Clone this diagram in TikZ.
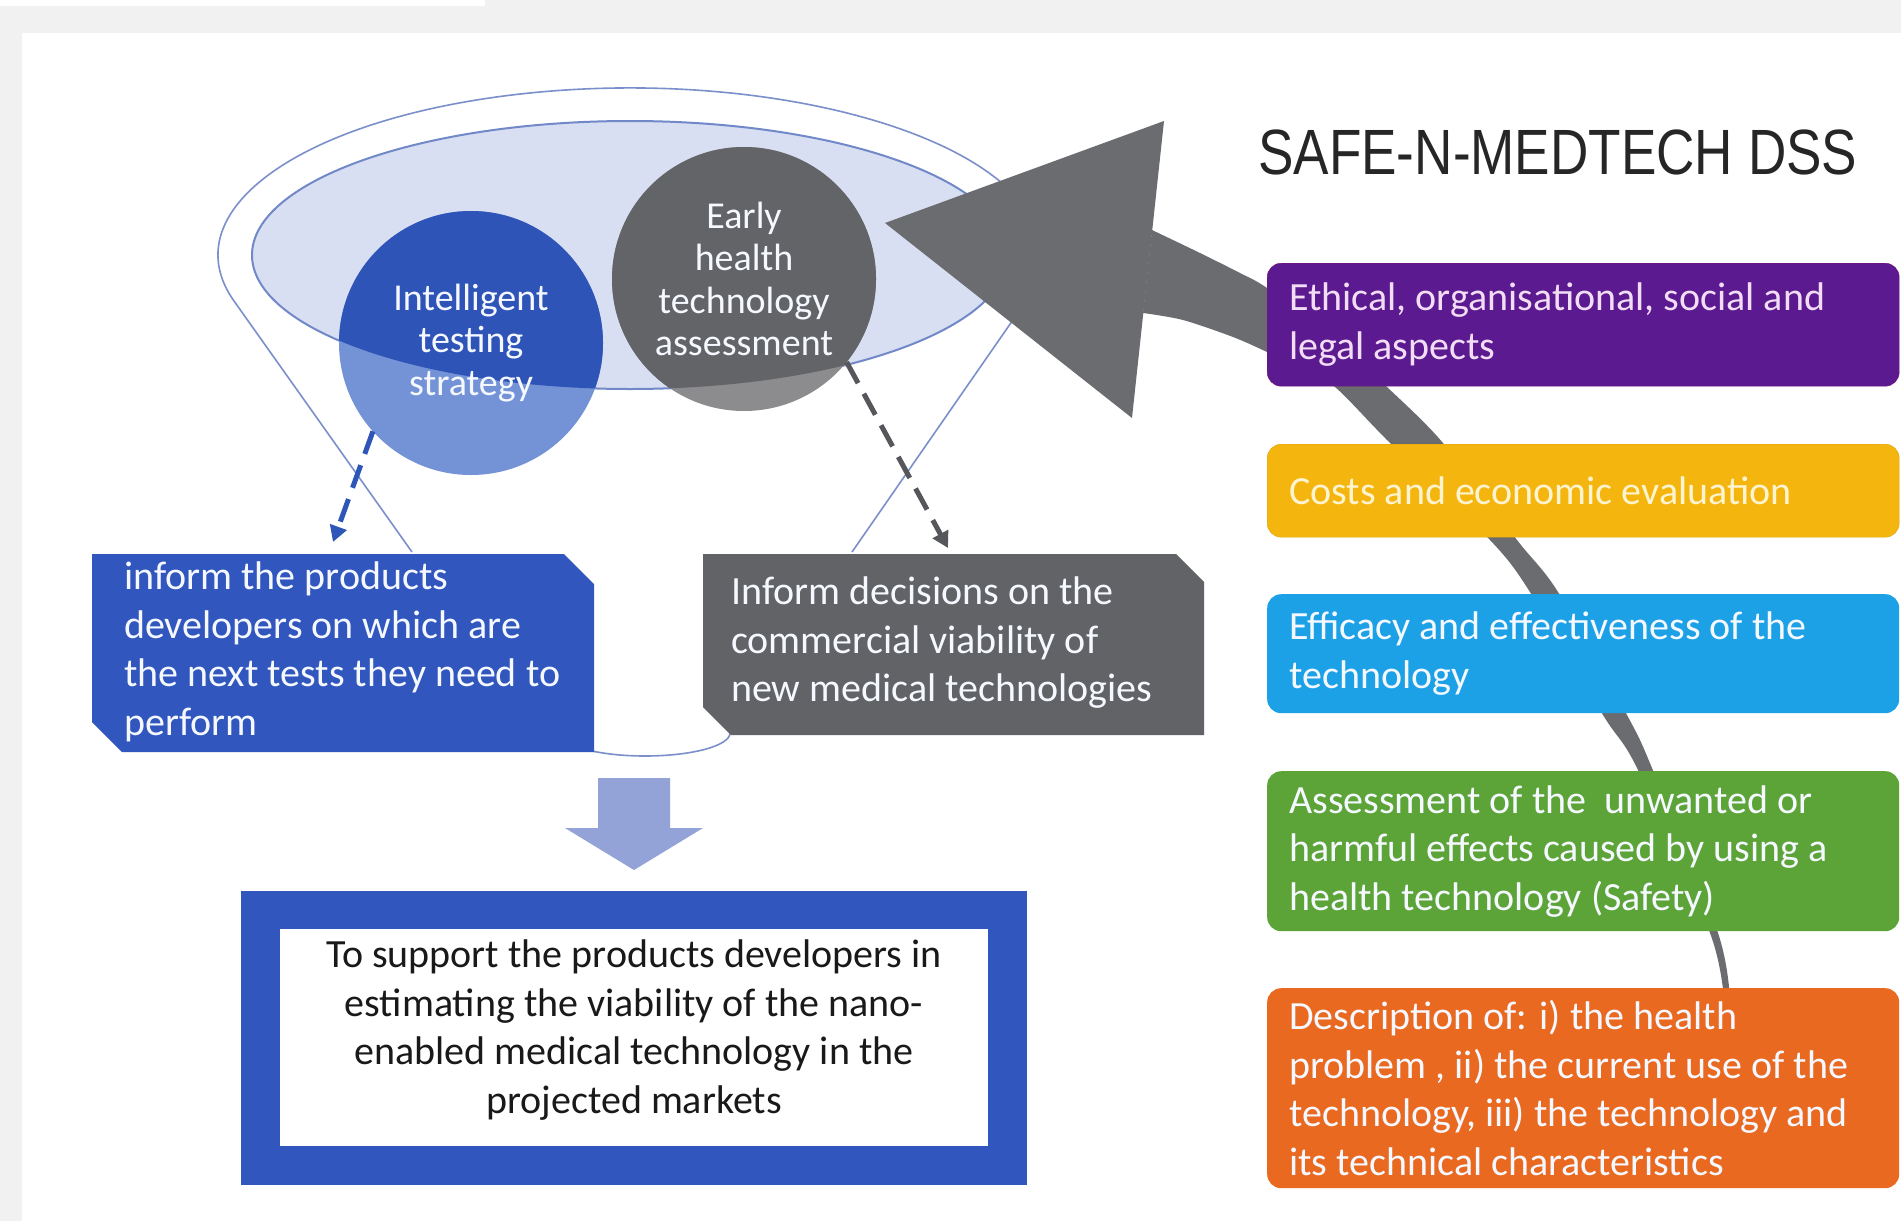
\documentclass[tikz,border=0pt]{standalone}
\usepackage{graphicx}
\usepackage{fontspec}
\setmainfont{Carlito}
\newfontfamily\arialf{Liberation Sans}
\usetikzlibrary{arrows.meta}
\definecolor{bgray}{HTML}{F1F1F1}
\definecolor{funnelline}{HTML}{7B8FCB}
\definecolor{ellfill}{HTML}{D9DFF2}
\definecolor{ellline}{HTML}{7188C9}
\definecolor{bluedark}{HTML}{2F54B8}
\definecolor{bluelight}{HTML}{7393D6}
\definecolor{greydark}{HTML}{636467}
\definecolor{greylight}{HTML}{8C8C8E}
\definecolor{arrowgrey}{HTML}{6B6C6F}
\definecolor{boxblue}{HTML}{3157BE}
\definecolor{boxgrey}{HTML}{626366}
\definecolor{downarr}{HTML}{93A3D8}
\definecolor{purplebox}{HTML}{5B1A8F}
\definecolor{yellowbox}{HTML}{F5B50F}
\definecolor{bluebox}{HTML}{1CA1E6}
\definecolor{greenbox}{HTML}{5CA437}
\definecolor{orangebox}{HTML}{E8691F}
\definecolor{titlecol}{HTML}{262626}
\definecolor{dashblue}{HTML}{2E55B8}
\definecolor{dashgrey}{HTML}{55575A}
\definecolor{purpletext}{HTML}{F2DDF5}
\definecolor{yellowtext}{HTML}{FFF4D0}
\definecolor{lighttext}{HTML}{F5F8FF}
\tikzset{
  rbox/.style={rounded corners=14pt, inner xsep=22pt, inner ysep=0pt, text width=588pt,
    align=flush left, anchor=north west, font=\fontsize{40}{48.5}\selectfont},
  ctext/.style={circle, minimum size=264pt, inner sep=0pt, outer sep=0pt, align=center,
    text=lighttext, font=\fontsize{38}{42.5}\selectfont},
  ltext/.style={align=left, text=lighttext, font=\fontsize{40}{48.5}\selectfont, inner sep=0pt, anchor=west},
  dashcon/.style={line width=5pt, dash pattern=on 24pt off 12pt, -{Triangle[length=16pt,width=17pt]}},
}
\begin{document}
\begin{tikzpicture}[x=1pt,y=-1pt]
% background
\fill[bgray] (0,0) rectangle (1901,1221);
\fill[white] (0,0) rectangle (485,6);
\fill[white] (22,33) rectangle (1901,1221);
\useasboundingbox (0,0) rectangle (1901,1221);

% funnel outline
\draw[funnelline, line width=1.6pt] (412,552) -- (234,301)
  arc[start angle=196, end angle=-15.7, x radius=412pt, y radius=167pt] -- (852,552);
\draw[funnelline, line width=1.6pt] (730,733) arc[start angle=0, end angle=-180, x radius=85pt, y radius=23pt];

% inner ellipse
\fill[ellfill] (630,255) ellipse[x radius=378pt, y radius=134pt];
\draw[ellline, line width=2pt] (630,255) ellipse[x radius=378pt, y radius=134pt];

% circles
\fill[bluelight] (471,343) circle[radius=132pt];
\fill[greylight] (744,279) circle[radius=132pt];
\begin{scope}
  \clip (630,255) ellipse[x radius=378pt, y radius=134pt];
  \fill[bluedark] (471,343) circle[radius=132pt];
  \fill[greydark] (744,279) circle[radius=132pt];
\end{scope}
\node[ctext] (its) at (471,343) {Intelligent\\testing\\strategy};
\node[ctext] (ehta) at (744,279) {Early\\health\\technology\\assessment};

% dashed connectors
\coordinate (tipA) at (333,542);
\coordinate (tipB) at (948,548);
\draw[dashcon, dashblue] (its.222) -- (tipA);
\draw[dashcon, dashgrey] (ehta.321) -- (tipB);

% big curved grey arrow
\fill[arrowgrey] plot[smooth, tension=0.5] coordinates {(1152,230) (1200,253) (1240,273) (1267,288) (1330,335) (1387,387) (1443,443) (1517,540) (1558,592) (1627,715) (1652,768) (1718,933) (1730,1000)}
  -- plot[smooth, tension=0.5] coordinates {(1724,1000) (1710,933) (1637,768) (1603,715) (1530,592) (1490,540) (1390,443) (1335,387) (1300,368) (1267,352) (1233,337) (1183,320) (1143,313)} -- cycle;
\fill[arrowgrey] (885,223) -- (1164,121) -- (1132,418) -- cycle;

% title
\node[anchor=west, inner sep=0pt, text=titlecol] (title) at (1258,152)
  {\scalebox{0.83}[1]{\fontsize{64}{64}\selectfont\arialf SAFE-N-MEDTECH DSS}};

% right boxes
\node[rbox, fill=purplebox, draw=purplebox!80!red, text=purpletext, minimum height=123pt] (eth) at (1267,263)
  {\mbox{Ethical, organisational, social and}\\\mbox{legal aspects}};
\node[rbox, fill=yellowbox, draw=yellowbox!90!black, text=yellowtext, minimum height=93pt] (cost) at (1267,444)
  {\mbox{Costs and economic evaluation}};
\node[rbox, fill=bluebox, text=lighttext, minimum height=119pt] (eff) at (1267,594)
  {\mbox{Efficacy and effectiveness of the}\\\mbox{technology}};
\node[rbox, fill=greenbox, text=lighttext, minimum height=160pt] (safe) at (1267,771)
  {\mbox{Assessment of the \ unwanted or}\\\mbox{harmful effects caused by using a}\\\mbox{health technology (Safety)}};
\node[rbox, fill=orangebox, text=lighttext, minimum height=200pt] (desc) at (1267,988)
  {\mbox{Description of: i) the health}\\\mbox{problem , ii) the current use of the}\\\mbox{technology, iii) the technology and}\\\mbox{its technical characteristics}};

% left snipped boxes
\fill[boxblue] (92,554) -- (564,554) -- (594,584) -- (594,752) -- (122,752) -- (92,722) -- cycle;
\node[ltext] (inform) at (124,652) {inform the products\\developers on which are\\the next tests they need to\\perform};
\fill[boxgrey] (703,554) -- (1176,554) -- (1204,582) -- (1204,735) -- (731,735) -- (703,707) -- cycle;
\node[ltext] (decide) at (731,643) {Inform decisions on the\\commercial viability of\\new medical technologies};

% down arrow
\fill[downarr] (598,778) -- (670,778) -- (670,828) -- (703,828) -- (634,870) -- (565,828) -- (598,828) -- cycle;

% bottom box
\fill[boxblue] (241,891) rectangle (1027,1185);
\fill[white] (280,929) rectangle (988,1146);
\node[align=center, inner sep=0pt, text=black!90, font=\fontsize{40}{48.5}\selectfont] (support) at (634,1030)
  {To support the products developers in\\estimating the viability of the nano-\\enabled medical technology in the\\projected markets};
\end{tikzpicture}
\end{document}
